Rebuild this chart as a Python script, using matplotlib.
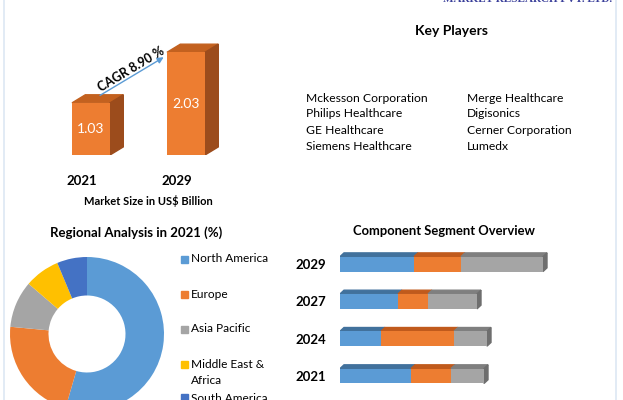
import matplotlib
matplotlib.use("Agg")
import matplotlib.pyplot as plt
from matplotlib.patches import Polygon, Rectangle
from matplotlib.lines import Line2D

plt.rcParams['font.family'] = ['Lato', 'DejaVu Sans']

# market size
years = ['2021', '2029']
market_size = [1.03, 2.03]
cagr_label = 'CAGR 8.90 %'

# key players
players_left = ['Mckesson Corporation', 'Philips Healthcare', 'GE Healthcare', 'Siemens Healthcare']
players_right = ['Merge Healthcare', 'Digisonics', 'Cerner Corporation', 'Lumedx']

# regional share 2021 (%)
regions = ['North America', 'Europe', 'Asia Pacific', 'Middle East &\nAfrica', 'South America']
region_share = [54.5, 22.0, 9.8, 7.4, 6.3]
region_colors = ['#5B9BD5', '#ED7D31', '#A5A5A5', '#FFC000', '#4472C4']

# component segment
seg_years = ['2021', '2024', '2027', '2029']
seg_a = [71, 41, 58, 74]
seg_b = [40, 73, 30, 47]
seg_c = [33, 33, 49, 82]
seg_colors = ['#5B9BD5', '#ED7D31', '#A5A5A5']
seg_tops = ['#41719C', '#C05A1C', '#7F7F7F']

W, H = 623, 400
fig = plt.figure(figsize=(W / 100, H / 100), dpi=100)
fig.patch.set_facecolor('white')

# frame lines + header
fig.add_artist(Line2D([4 / W, 4 / W], [0, 1], color='#DDE8F4', lw=1.2))
fig.add_artist(Line2D([616 / W, 616 / W], [0, 1], color='#DDE8F4', lw=1.2))
fig.text(612 / W, 397.5 / H, 'MARKET RESEARCH PVT. LTD.', ha='right', va='baseline',
         fontsize=8, fontweight='bold', color='#3A3F9A', family='Liberation Serif')

# ---- market size 3d bars ----
ax1 = fig.add_axes([43.5 / W, 0.6125, 190 / W, 0.3036])
ax1.set_xlim(-0.5, 1.5)
ax1.set_ylim(0, 2.4)
ax1.axis('off')
w = 0.4
dx, dy = 0.14, 0.16
for i, v in enumerate(market_size):
    ax1.bar(i, v, width=w, color='#ED7D31', zorder=3)
    x0, x1 = i - w / 2, i + w / 2
    ax1.add_patch(Polygon([(x0, v), (x1, v), (x1 + dx, v + dy), (x0 + dx, v + dy)],
                          closed=True, color='#C3611F', zorder=2))
    ax1.add_patch(Polygon([(x1, 0), (x1, v), (x1 + dx, v + dy), (x1 + dx, dy)],
                          closed=True, color='#9C4C1C', zorder=2))
    ax1.text(i, v / 2, f'{v:.2f}', ha='center', va='center', color='white', fontsize=10, zorder=4)
    ax1.text(i - 0.1, -0.51, years[i], ha='center', va='center', fontsize=9.5,
             fontweight='bold', clip_on=False)
ax1.annotate('', xy=(0.79, 1.96), xytext=(0.07, 1.15),
             arrowprops=dict(arrowstyle='-|>', color='#5B9BD5', lw=1, mutation_scale=9))
ax1.text(0.42, 1.7, cagr_label, rotation=31, ha='center', va='center',
         fontsize=9, fontweight='bold')
ax1.text(0.6, -0.91, 'Market Size in US$ Billion', ha='center', va='center',
         fontsize=8, fontweight='bold', clip_on=False)

# ---- key players ----
fig.text(451 / W, 1 - 31 / H, 'Key Players', ha='center', va='center', fontsize=10, fontweight='bold')
for k, (a, b) in enumerate(zip(players_left, players_right)):
    y = 1 - (98 + 16 * k) / H
    fig.text(306 / W, y, a, ha='left', va='center', fontsize=8.7)
    fig.text(467 / W, y, b, ha='left', va='center', fontsize=8.7)

# ---- regional donut ----
ax2 = fig.add_axes([10 / W, -11 / H, 154 / W, 154 / H])
ax2.pie(region_share, colors=region_colors, startangle=90, counterclock=False,
        radius=1, wedgeprops=dict(width=0.5, linewidth=0))
ax2.set_xlim(-1, 1)
ax2.set_ylim(-1, 1)
fig.text(136 / W, 1 - 233 / H, 'Regional Analysis in 2021 (%)', ha='center', va='center',
         fontsize=9.5, fontweight='bold')
ly = 259
for lab, col in zip(regions, region_colors):
    fig.add_artist(Rectangle((180.5 / W, 1 - (ly + 3.5) / H), 7 / W, 7 / H,
                             color=col, transform=fig.transFigure))
    fig.text(191 / W, 1 - ly / H, lab.split('\n')[0], ha='left', va='center', fontsize=8.6)
    if '\n' in lab:
        fig.text(191 / W, 1 - (ly + 16) / H, lab.split('\n')[1], ha='left', va='center', fontsize=8.6)
        ly += 34
    else:
        ly += 35

# ---- component segment 3d stacked bars ----
ax3 = fig.add_axes([340 / W, 1.6 / H, 250 / W, 156.7 / H])
ax3.set_xlim(0, 250)
ax3.set_ylim(-0.6, 3.6)
ypos = list(range(len(seg_years)))
bh = 0.4
ddx, ddy = 4, 0.1
left = [0] * len(seg_years)
for vals, col, tcol in zip([seg_a, seg_b, seg_c], seg_colors, seg_tops):
    ax3.barh(ypos, vals, left=left, height=bh, color=col, zorder=3)
    for y, l, v in zip(ypos, left, vals):
        ax3.add_patch(Polygon([(l, y + bh / 2), (l + v, y + bh / 2),
                               (l + v + ddx, y + bh / 2 + ddy), (l + ddx, y + bh / 2 + ddy)],
                              closed=True, color=tcol, zorder=2))
    left = [l + v for l, v in zip(left, vals)]
for y, l in zip(ypos, left):
    ax3.add_patch(Polygon([(l, y - bh / 2), (l, y + bh / 2), (l + ddx, y + bh / 2 + ddy),
                           (l + ddx, y - bh / 2 + ddy)], closed=True, color='#6E6E6E', zorder=2))
ax3.set_yticks(ypos)
ax3.set_yticklabels(seg_years, fontsize=9.5, fontweight='bold')
ax3.tick_params(axis='y', length=0, pad=10)
ax3.set_xticks([])
for s in ax3.spines.values():
    s.set_visible(False)
ax3.patch.set_alpha(0)
fig.text(444 / W, 1 - 231 / H, 'Component Segment Overview', ha='center', va='center',
         fontsize=9.4, fontweight='bold')

fig.savefig('out.png', dpi=100)
